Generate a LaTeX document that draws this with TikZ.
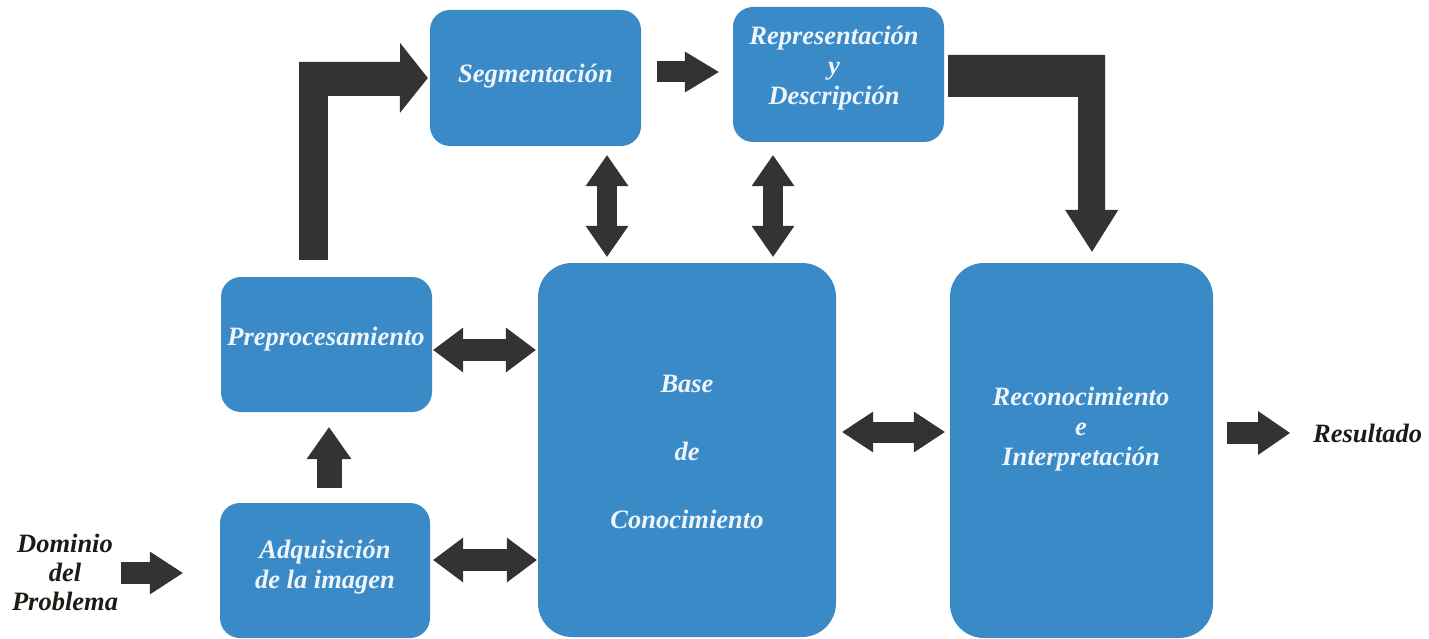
\documentclass[tikz,border=0pt]{standalone}
\usepackage{fontspec}
\setmainfont{Liberation Serif}
\usetikzlibrary{arrows.meta,calc}
\definecolor{boxblue}{RGB}{58,138,200}
\definecolor{boxtext}{RGB}{238,245,252}
\definecolor{arrowgray}{RGB}{51,51,51}
\definecolor{labeltext}{RGB}{30,26,22}
\tikzset{
  stage/.style={fill=boxblue, rounded corners=20pt, inner sep=0pt},
  bigstage/.style={stage, rounded corners=34pt},
  stagetext/.style={text=boxtext, font=\fontsize{26.5}{30}\selectfont\bfseries\itshape,
    align=center, inner sep=0pt},
  outtext/.style={text=labeltext, font=\fontsize{26.5}{29}\selectfont\bfseries\itshape,
    align=center, inner sep=0pt},
  fatarrow/.style n args={3}{draw=arrowgray, line width=#1,
    -{Triangle[length=#2, width=#3, line width=0pt]}},
  twoway/.style n args={3}{draw=arrowgray, line width=#1,
    {Triangle[length=#2, width=#3, line width=0pt]}-{Triangle[length=#2, width=#3, line width=0pt]}},
}
\begin{document}
\begin{tikzpicture}[x=1pt,y=-1pt]
\useasboundingbox (0,0) rectangle (1429,639);

% processing stages
\node[stage, minimum width=211pt, minimum height=136pt] (seg) at (535.5,78) {};
\node[stage, minimum width=211pt, minimum height=135pt] (rep) at (838.5,74.5) {};
\node[stage, minimum width=211pt, minimum height=135pt] (pre) at (326.5,344.5) {};
\node[stage, minimum width=210pt, minimum height=135pt] (adq) at (325,570.5) {};
\node[bigstage, minimum width=298pt, minimum height=374pt] (base) at (687,450) {};
\node[bigstage, minimum width=263pt, minimum height=375pt] (rec) at (1081.5,450.5) {};

% stage labels
\node[stagetext] (segt) at (535.5,76) {Segmentación};
\node[stagetext] (rept) at (834,68) {Representación\\y\\Descripción};
\node[stagetext] (pret) at (326,339) {Preprocesamiento};
\node[stagetext] (adqt) at (325,567) {Adquisición\\de la imagen};
\node[stagetext, font=\fontsize{26.5}{68}\selectfont\bfseries\itshape] (baset) at (687,452) {Base\\de\\Conocimiento};
\node[stagetext] (rect) at (1081,429) {Reconocimiento\\e\\Interpretación};

% input and output labels
\node[outtext] (dom) at (65,572) {Dominio\\del\\Problema};
\node[outtext, anchor=west] (res) at (1313,433) {Resultado};

% straight block arrows
\draw[fatarrow={22pt}{33pt}{43pt}] ($(dom.east |- adq.west)+(3,2.5)$) -- ($(adq.west)+(-37,2.5)$);
\draw[fatarrow={25pt}{32pt}{45pt}] ($(adq.north)+(4,-15)$) -- ($(pre.south)+(2.5,15)$);
\draw[fatarrow={21pt}{34pt}{41pt}] ($(seg.east)+(16,-6)$) -- ($(rep.west)+(-14,-2.5)$);
\draw[fatarrow={22pt}{32pt}{44pt}] ($(rec.east)+(14,-17.5)$) -- ($(rec.east -| res.west)+(-23,-17.5)$);

% two-way exchanges with the knowledge base
\draw[twoway={22pt}{30pt}{45pt}] ($(pre.east)+(1,5.5)$) -- ($(pre.east -| base.west)+(-2,5.5)$);
\draw[twoway={22pt}{30pt}{45pt}] ($(adq.east)+(3,-10.5)$) -- ($(adq.east -| base.west)+(-1,-10.5)$);
\draw[twoway={21pt}{31pt}{41pt}] ($(base.east)+(6,-18)$) -- ($(base.east -| rec.west)+(-5,-18)$);
\draw[twoway={20pt}{31pt}{43pt}] ($(seg.south)+(71.5,9)$) -- ($(seg.south |- base.north)+(71.5,-6)$);
\draw[twoway={20pt}{31pt}{43pt}] ($(rep.south)+(-65.5,13)$) -- ($(rep.south |- base.north)+(-65.5,-6)$);

% elbow arrows
\fill[arrowgray] ($(pre.north)+(-27.5,-17)$) -- ++(0,-198) -- ++(101,0) -- ++(0,-19)
  -- ($(seg.west)+(-2,0)$) -- ++(-28,35) -- ++(0,-17) -- ++(-72,0) -- ++(0,164) -- cycle;
\fill[arrowgray] ($(rep.east)+(4,-19.5)$) -- ++(157,0) -- ++(0,155) -- ++(13,0)
  -- ($(rec.north)+(10.5,-11)$) -- ++(-27,-42) -- ++(13,0) -- ++(0,-113) -- ++(-130,0) -- cycle;
\end{tikzpicture}
\end{document}
